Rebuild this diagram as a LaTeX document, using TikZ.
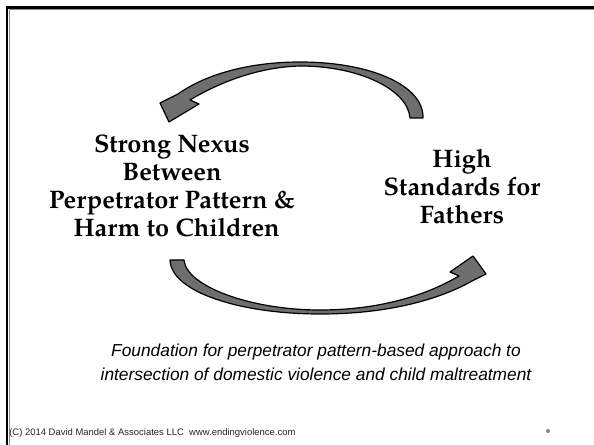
\documentclass[tikz,border=0pt]{standalone}
\usepackage{fontspec}
\setmainfont{Liberation Sans}
\newfontfamily\pal{texgyrepagella}[Extension=.otf, UprightFont=*-regular, BoldFont=*-bold, ItalicFont=*-italic, BoldItalicFont=*-bolditalic]
\definecolor{arrowgray}{HTML}{6E6E6E}
\definecolor{framegray}{HTML}{8A8A8A}
\definecolor{dotgray}{HTML}{8C8C8C}
\tikzset{
  bigarrow/.style={fill=arrowgray, draw=black, line width=0.9pt, line join=round},
  label/.style={font=\pal\bfseries\fontsize{19}{21}\selectfont, align=center, inner sep=0pt},
  caption/.style={font=\itshape\fontsize{13}{18}\selectfont, align=center, inner sep=0pt},
  footer/.style={font=\fontsize{7.1}{8}\selectfont, inner sep=0pt, text=black!85}
}
\begin{document}
\begin{tikzpicture}[x=0.75pt,y=-0.75pt]
\useasboundingbox (0,0) rectangle (594,445);
% frame
\draw[framegray, line width=0.9pt] (9.4,445) -- (9.4,9.4) -- (594,9.4);
\draw[black, line width=1.9pt] (7,445) -- (7,7.6) -- (594,7.6);
% labels
\node[label, anchor=north] (nexus) at (172,135)
  {Strong Nexus\\ Between\\ Perpetrator Pattern \&\\ \hspace{7pt}Harm to Children};
\node[label, anchor=north] (fathers) at (462,148.5) {High\\ Standards for\\ Fathers};
% top arrow (from Fathers to Nexus)
\draw[bigarrow] (423,118) .. controls (424,86) and (372,62) .. (300,62)
  .. controls (250,62) and (206,74) .. (178,94)
  -- (160,103) -- (169,122) -- (199,104) -- (190,100)
  .. controls (218,83) and (258,67) .. (300,66)
  .. controls (360,66) and (408,90) .. (410,118) -- cycle;
% bottom arrow (from Nexus to Fathers)
\draw[bigarrow] (170,260) .. controls (171,292) and (240,314) .. (320,314)
  .. controls (392,314) and (442,298) .. (472,281)
  -- (486,274) -- (473,256) -- (450,272) -- (459,276)
  .. controls (432,292) and (386,310) .. (320,310)
  .. controls (250,310) and (186,286) .. (184,260) -- cycle;
% caption
\node[caption, anchor=north] (found) at (316,344)
  {Foundation for perpetrator pattern-based approach to\\ intersection of domestic violence and child maltreatment};
% footer
\node[footer, anchor=base west] (copy) at (9,436)
  {(C) 2014 David Mandel \& Associates LLC\ \ www.endingviolence.com};
\fill[dotgray] (548,431) circle (2.1);
\end{tikzpicture}
\end{document}
